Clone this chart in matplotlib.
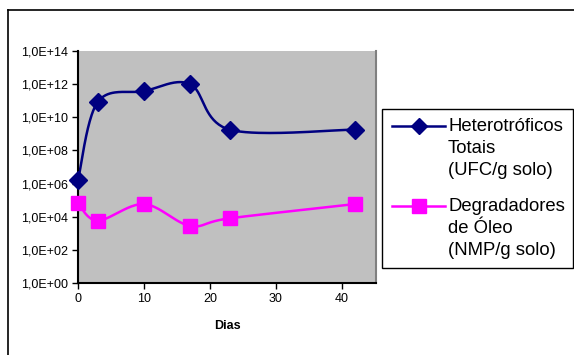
import numpy as np
import matplotlib
matplotlib.use("Agg")
import matplotlib.pyplot as plt
from matplotlib.lines import Line2D
from matplotlib.patches import Rectangle
from matplotlib.ticker import FixedLocator, FuncFormatter, NullLocator

plt.rcParams['font.family'] = ['Liberation Sans', 'DejaVu Sans']

# dias de amostragem
dias = [0, 3, 10, 17, 23, 42]
# Heterotróficos Totais (UFC/g solo)
heterotroficos = [1.6e6, 8.5e10, 3.8e11, 1.0e12, 1.8e9, 1.8e9]
# Degradadores de Óleo (NMP/g solo)
degradadores = [6.3e4, 5.8e3, 5.8e4, 2.8e3, 8.0e3, 5.8e4]

y_ticks = [1e0, 1e2, 1e4, 1e6, 1e8, 1e10, 1e12, 1e14]
x_ticks = [0, 10, 20, 30, 40]
labels = ['Heterotróficos\nTotais\n(UFC/g solo)', 'Degradadores\nde Óleo\n(NMP/g solo)']

W, H = 574, 355


def smooth(xs, ys, n=40):
    # Excel-like smoothed line: cubic bezier, control points from neighbours (log y)
    x = np.asarray(xs, float)
    y = np.log10(np.asarray(ys, float))
    px = np.concatenate([[x[0]], x, [x[-1]]])
    py = np.concatenate([[y[0]], y, [y[-1]]])
    out_x, out_y = [], []
    t = np.linspace(0, 1, n)
    for i in range(len(x) - 1):
        p0 = np.array([px[i + 1], py[i + 1]])
        p3 = np.array([px[i + 2], py[i + 2]])
        p1 = p0 + (np.array([px[i + 2], py[i + 2]]) - np.array([px[i], py[i]])) / 6
        p2 = p3 - (np.array([px[i + 3], py[i + 3]]) - np.array([px[i + 1], py[i + 1]])) / 6
        b = ((1 - t) ** 3)[:, None] * p0 + (3 * (1 - t) ** 2 * t)[:, None] * p1 \
            + (3 * (1 - t) * t ** 2)[:, None] * p2 + (t ** 3)[:, None] * p3
        out_x.extend(b[:, 0])
        out_y.extend(b[:, 1])
    return np.array(out_x), 10 ** np.array(out_y)


def fx(px):
    return px / W


def fy(py):
    return 1 - py / H


fig = plt.figure(figsize=(W / 100, H / 100), dpi=100)
fig.patch.set_facecolor('white')

# chart border (only top/left visible)
fig.add_artist(Line2D([fx(8), fx(8)], [0, fy(10)], color='black', lw=1.2, transform=fig.transFigure))
fig.add_artist(Line2D([fx(8), 1], [fy(10), fy(10)], color='black', lw=1.2, transform=fig.transFigure))

ax = fig.add_axes([fx(78), fy(283), (376 - 78) / W, (283 - 51) / H])
ax.set_facecolor('#C0C0C0')

hx, hy = smooth(dias, heterotroficos)
dx, dy = smooth(dias, degradadores)
ax.plot(hx, hy, color='#000080', lw=1.8, zorder=2)
ax.plot(dias, heterotroficos, linestyle='none', marker='D', ms=9, color='#000080', zorder=3,
        clip_on=False)
ax.plot(dx, dy, color='#FF00FF', lw=1.8, zorder=2)
ax.plot(dias, degradadores, linestyle='none', marker='s', ms=10.5, color='#FF00FF', zorder=3,
        clip_on=False)

ax.set_yscale('log')
ax.set_ylim(1, 1e14)
ax.set_xlim(0, 45.2)
ax.yaxis.set_major_locator(FixedLocator(y_ticks))
ax.yaxis.set_minor_locator(NullLocator())
ax.yaxis.set_major_formatter(FuncFormatter(lambda v, p: '1,0E+%02d' % round(np.log10(v))))
ax.xaxis.set_major_locator(FixedLocator(x_ticks))
ax.tick_params(axis='both', labelsize=9, length=4, width=1, direction='out', pad=3)
ax.set_xlabel('Dias', fontsize=9, fontweight='bold', labelpad=11)

ax.spines['top'].set_visible(False)
ax.spines['right'].set_color('#808080')
ax.spines['right'].set_linewidth(1.5)
ax.spines['left'].set_linewidth(1.5)
ax.spines['bottom'].set_linewidth(1.5)

# legend, drawn by hand so the key sits on the first line of each label
fig.add_artist(Rectangle((fx(382), fy(268)), (573 - 382) / W, (268 - 109) / H, facecolor='white',
                         edgecolor='black', lw=1, transform=fig.transFigure))
entries = [('#000080', 'D', 8, 126), ('#FF00FF', 's', 10, 206)]
for (col, mk, ms, yy), lab in zip(entries, labels):
    fig.add_artist(Line2D([fx(392), fx(445)], [fy(yy), fy(yy)], color=col, lw=1.8,
                          transform=fig.transFigure))
    fig.add_artist(Line2D([fx(419)], [fy(yy)], color=col, marker=mk, ms=ms, linestyle='none',
                          transform=fig.transFigure))
    fig.text(fx(448), fy(yy + 22.5), lab, fontsize=13.3, va='center', ha='left', linespacing=1.42)

fig.savefig('out.png', dpi=100)
